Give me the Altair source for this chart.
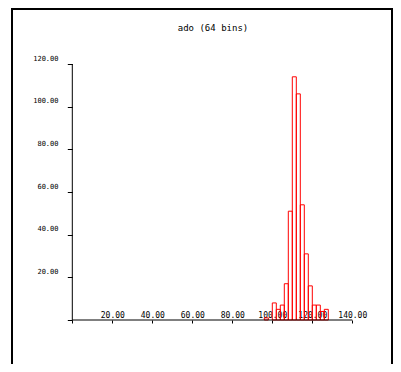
import altair as alt
import pandas as pd

title_text = "ado (64 bins)"
bin_width = 2
bin_lo = [96, 100, 102, 104, 106, 108, 110, 112, 114, 116, 118, 120, 122, 124, 126]
counts = [1, 8, 5, 7, 17, 51, 114, 106, 54, 31, 16, 7, 7, 4, 5]
x_ticks = [0, 20, 40, 60, 80, 100, 120, 140]
y_ticks = [0, 20, 40, 60, 80, 100, 120]

df = pd.DataFrame({
    "lo": bin_lo,
    "hi": [b + bin_width for b in bin_lo],
    "count": counts,
})

W, H = 381, 356
FONT = "DejaVu Sans Mono"
xs = alt.Scale(domain=[-30.15, 160.35], nice=False, zero=False)
ys = alt.Scale(domain=[-20.625, 146.25], nice=False, zero=False)

lab = "datum.value == 0 ? '' : format(datum.value, '.2f')"

x_axis = alt.Axis(values=x_ticks, orient="bottom", offset=-44, domain=False,
                  grid=False, tickSize=3, tickColor="black", labelPadding=-5.5,
                  labelBaseline="alphabetic", labelFont=FONT, labelFontSize=8,
                  labelColor="black", labelExpr=lab, labelOverlap=False,
                  labelFlush=False, title=None)
y_axis = alt.Axis(values=y_ticks, orient="left", offset=-60.3, domain=False,
                  grid=False, tickSize=5, tickColor="black", labelPadding=9.3,
                  labelBaseline="alphabetic", labelOffset=-4, labelFont=FONT,
                  labelFontSize=7, labelColor="black", labelExpr=lab,
                  labelOverlap=False, labelFlush=False, title=None)

bars = alt.Chart(df).mark_rect(fill="white", fillOpacity=0, stroke="#ff0000",
                               strokeWidth=1).encode(
    x=alt.X("lo:Q", scale=xs, title=None, axis=x_axis),
    x2="hi:Q",
    y=alt.Y("count:Q", scale=ys, title=None, axis=y_axis),
    y2=alt.Y2(datum=0),
)

base = alt.Chart(pd.DataFrame({"a": [0]}))

x_line = base.mark_rule(color="black", strokeWidth=1).encode(
    x=alt.X(datum=x_ticks[0], scale=xs, axis=x_axis),
    x2=alt.X2(datum=x_ticks[-1]),
    y=alt.Y(datum=0, scale=ys, axis=y_axis),
)
y_line = base.mark_rule(color="black", strokeWidth=1).encode(
    x=alt.X(datum=0, scale=xs, axis=x_axis),
    y=alt.Y(datum=y_ticks[0], scale=ys, axis=y_axis),
    y2=alt.Y2(datum=y_ticks[-1]),
)

frame_left = base.mark_rule(color="black", strokeWidth=2).encode(
    x=alt.value(0), y=alt.value(0), y2=alt.value(H))
frame_top = base.mark_rule(color="black", strokeWidth=2).encode(
    x=alt.value(0), x2=alt.value(W), y=alt.value(1))
frame_right = base.mark_rule(color="black", strokeWidth=2).encode(
    x=alt.value(W - 1), y=alt.value(0), y2=alt.value(H))

title = base.mark_text(text=title_text, font=FONT, fontSize=9, color="black",
                       align="center", baseline="alphabetic").encode(
    x=alt.value(201), y=alt.value(23))

chart = alt.layer(bars, x_line, y_line, frame_left, frame_top, frame_right, title).properties(
    width=W, height=H,
    autosize=alt.AutoSizeParams(type="none"),
    padding={"left": 4, "top": 0, "right": 0, "bottom": 0},
    background="white",
).configure_view(stroke=None)

chart.save("out.html", embed_options={"renderer": "svg", "actions": False})
